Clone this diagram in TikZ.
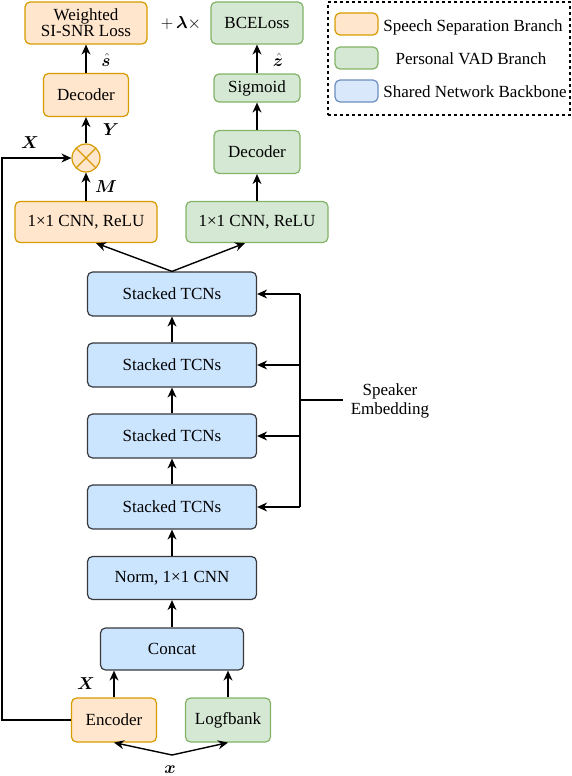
\documentclass[tikz,border=0pt]{standalone}
\usepackage{fontspec}
\setmainfont{Liberation Serif}
\usepackage{amsmath,bm}
\usetikzlibrary{arrows.meta,calc}
\definecolor{orF}{HTML}{FFE6CC}\definecolor{orD}{HTML}{D79B00}
\definecolor{grF}{HTML}{D5E8D4}\definecolor{grD}{HTML}{82B366}
\definecolor{blF}{HTML}{CCE5FF}\definecolor{blD}{HTML}{36393D}
\definecolor{lbF}{HTML}{DAE8FC}\definecolor{lbD}{HTML}{6C8EBF}
\begin{document}
\begin{tikzpicture}[x=1pt,y=-1pt,
  font=\fontsize{17}{19}\selectfont,
  box/.style={draw,rounded corners=5pt,line width=1.2pt,align=center,inner sep=0pt},
  orbox/.style={box,fill=orF,draw=orD},
  grbox/.style={box,fill=grF,draw=grD},
  blbox/.style={box,fill=blF,draw=blD},
  arr/.style={line width=1.4pt,-{Stealth[length=10pt,width=9pt]}},
  ln/.style={line width=1.4pt},
  lab/.style={inner sep=0pt}]
\useasboundingbox (0,0) rectangle (572,776);
% top boxes
\node[orbox,minimum width=122pt,minimum height=42pt] (loss) at (86,23) {Weighted\\[-3pt]SI-SNR Loss};
\node[lab] (plus) at (181,23) {$+\,\bm{\lambda}\times$};
\node[grbox,minimum width=92pt,minimum height=42pt] (bce) at (257,23) {BCELoss};
\node[orbox,minimum width=85pt,minimum height=43pt] (dec1) at (86,95) {Decoder};
\node[grbox,minimum width=86pt,minimum height=28pt] (sig) at (257,88) {Sigmoid};
\node[grbox,minimum width=86pt,minimum height=43pt] (dec2) at (257,152) {Decoder};
\node[circle,draw=orD,fill=orF,line width=1.2pt,minimum size=28pt,inner sep=0pt,
  path picture={\draw[orD,line width=1.2pt] (path picture bounding box.north west)--(path picture bounding box.south east)
  (path picture bounding box.north east)--(path picture bounding box.south west);}] (mul) at (86,158) {};
\node[orbox,minimum width=142pt,minimum height=41pt] (cnn1) at (86,222) {1×1 CNN, ReLU};
\node[grbox,minimum width=142pt,minimum height=41pt] (cnn2) at (257,222) {1×1 CNN, ReLU};
% backbone
\foreach \i/\y in {1/294,2/365,3/436,4/507}{
  \node[blbox,minimum width=169pt,minimum height=44pt] (tcn\i) at (172,\y) {Stacked TCNs};}
\node[blbox,minimum width=169pt,minimum height=43pt] (norm) at (172,578) {Norm, 1×1 CNN};
\node[blbox,minimum width=143pt,minimum height=42pt] (concat) at (172,649) {Concat};
\node[orbox,minimum width=85pt,minimum height=44pt] (enc) at (114,720) {Encoder};
\node[grbox,minimum width=85pt,minimum height=44pt] (logf) at (228,720) {Logfbank};
\coordinate (xin) at (172,755);
\node[lab] (xlab) at (170,770) {$\bm{x}$};
% labels
\node[lab] (shat) at (106,60) {$\hat{\bm{s}}$};
\node[lab] (zhat) at (278,60) {$\hat{\bm{z}}$};
\node[lab] (Ylab) at (111,130) {$\bm{Y}$};
\node[lab] (Xlab) at (30,143) {$\bm{X}$};
\node[lab] (Mlab) at (106,187) {$\bm{M}$};
\node[lab] (X2lab) at (86,684) {$\bm{X}$};
% arrows
\draw[arr] (dec1.north) -- (loss.south);
\draw[arr] (mul.north) -- (dec1.south);
\draw[arr] (cnn1.north) -- (mul.south);
\draw[arr] (sig.north) -- (bce.south);
\draw[arr] (dec2.north) -- (sig.south);
\draw[arr] (cnn2.north) -- (dec2.south);
\draw[arr] (tcn1.north) -- ($(cnn1.south)+(10,0)$);
\draw[arr] (tcn1.north) -- ($(cnn2.south)+(-12,0)$);
\draw[arr] (tcn2.north) -- (tcn1.south);
\draw[arr] (tcn3.north) -- (tcn2.south);
\draw[arr] (tcn4.north) -- (tcn3.south);
\draw[arr] (norm.north) -- (tcn4.south);
\draw[arr] (concat.north) -- (norm.south);
\draw[arr] (enc.north) -- (enc.north |- concat.south);
\draw[arr] (logf.north) -- (logf.north |- concat.south);
\draw[arr] (xin) -- (enc.south);
\draw[arr] (xin) -- (logf.south);
\draw[arr] (enc.west) -- (2,720) -- (2,158) -- (mul.west);
% speaker embedding
\coordinate (bus) at (300,400);
\node[lab,align=center] (spk) at (390,401) {Speaker\\Embedding};
\draw[ln] (300,294) -- (300,507);
\draw[ln] (bus) -- (343,400);
\foreach \i/\y in {1/294,2/365,3/436,4/507}{
  \draw[arr] (300,\y) -- (tcn\i.east);}
% legend
\node[draw,dashed,line width=1.2pt,minimum width=242pt,minimum height=113pt,inner sep=0pt] (leg) at (449,58.5) {};
\node[box,fill=orF,draw=orD,minimum width=43pt,minimum height=22pt] (lg1) at (356.5,24) {};
\node[box,fill=grF,draw=grD,minimum width=43pt,minimum height=22pt] (lg2) at (356.5,58) {};
\node[box,fill=lbF,draw=lbD,minimum width=43pt,minimum height=22pt] (lg3) at (356.5,91) {};
\node[lab] (lt1) at (473,27) {Speech Separation Branch};
\node[lab] (lt2) at (471,59) {Personal VAD Branch};
\node[lab] (lt3) at (475,92) {Shared Network Backbone};
\end{tikzpicture}
\end{document}
